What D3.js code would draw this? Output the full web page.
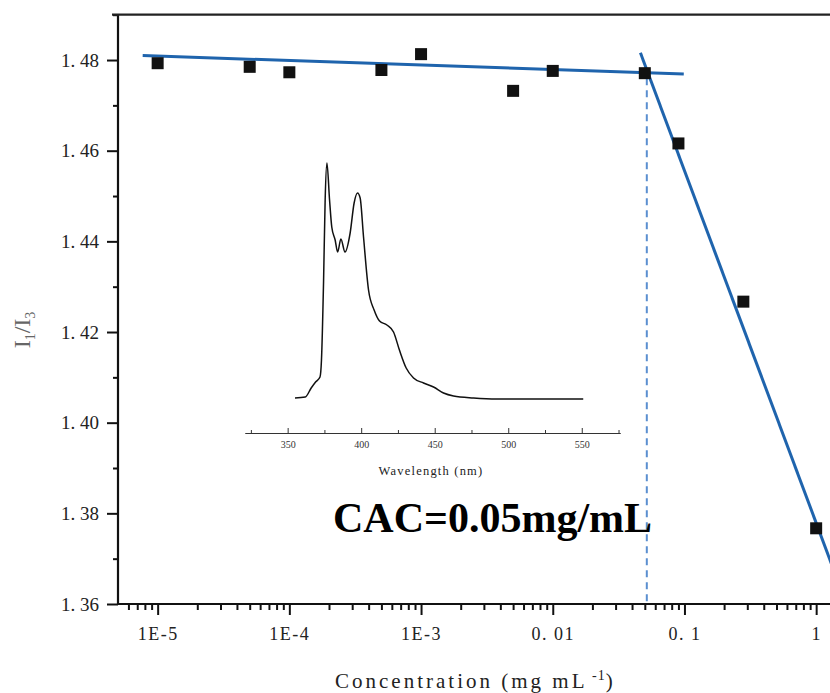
<!DOCTYPE html>
<html>
<head>
<meta charset="utf-8">
<script src="https://cdn.jsdelivr.net/npm/d3@7"></script>
<style>
  body { margin: 0; background: #fff; }
  svg { display: block; }
</style>
</head>
<body>
<div id="chart"></div>
<script>
// measured points: concentration (mg/mL) vs I1/I3
const concentration = [1e-5, 5e-5, 1e-4, 5e-4, 1e-3, 5e-3, 0.01, 0.05, 0.09, 0.28, 1]
const ratio = [1.4793, 1.4785, 1.4773, 1.4778, 1.4813, 1.4732, 1.4776, 1.4771, 1.4616, 1.4267, 1.3767]

// two fitted lines (end points)
const fitFlatX = [7.7e-6, 0.0988]
const fitFlatY = [1.4810, 1.4769]
const fitSteepX = [0.0463, 1.5]
const fitSteepY = [1.4816, 1.3642]
const cac = 0.05

const yMajor = [1.36, 1.38, 1.40, 1.42, 1.44, 1.46, 1.48]
const yMinor = [1.37, 1.39, 1.41, 1.43, 1.45, 1.47, 1.49]
const xMajor = [1e-5, 1e-4, 1e-3, 0.01, 0.1, 1]
const xMajorLabels = ["1E-5", "1E-4", "1E-3", "0. 01", "0. 1", "1"]

// inset spectrum (pyrene emission)
const wavelength = [355, 362, 366, 369, 372, 373, 374.4, 375.5, 376.7, 378.5, 380, 382.3, 384, 386.2, 389, 392.5, 395.2, 397.5, 399.3, 401.6, 405, 408.8, 412.5, 417.5, 422, 426, 430.6, 435.6, 442.4, 449.2, 456, 462.8, 476.4, 492.3, 526.3, 551]
const intensity = [35, 36, 45, 51, 56, 73, 150, 233, 270, 233, 206, 193, 181, 194, 181, 200, 230, 240, 235, 196, 143, 123, 112, 108, 101, 83, 65, 55, 50, 46, 40, 37, 35, 34, 34, 34]
const insetTicks = [350, 400, 450, 500, 550]
const insetMinor = [325, 375, 425, 475, 525, 575]

const W = 830, H = 693
const svg = d3.select("#chart").append("svg")
  .attr("width", W).attr("height", H)
  .style("background", "#fff")

const x = d3.scaleLog().domain([5e-6, 3]).range([118, 879])
const y = d3.scaleLinear().domain([1.36, 1.49]).range([604, 14.7])

const serif = "'Liberation Serif', 'DejaVu Serif', serif"

// x minor ticks 2..9 per decade
const xMinor = []
for (let e = -6; e <= 0; e++) {
  for (let k = 2; k <= 9; k++) {
    const v = k * Math.pow(10, e)
    if (v >= 5e-6 && v <= 3) xMinor.push(v)
  }
}

// ---- axes ----
const axisG = svg.append("g")

const yAx = axisG.append("g").attr("transform", "translate(118,0)")
yAx.call(d3.axisLeft(y).tickValues(yMajor).tickSize(11).tickPadding(8)
  .tickFormat(d => d3.format(".2f")(d).replace(".", ". ")))
yAx.append("g").call(d3.axisLeft(y).tickValues(yMinor).tickSize(5).tickFormat(""))
yAx.selectAll("path").remove()
yAx.selectAll("line").attr("stroke", "#111").attr("stroke-width", 2)
yAx.selectAll("text").attr("font-family", serif).attr("font-size", 19).attr("fill", "#222")

const xAx = axisG.append("g").attr("transform", "translate(0,604)")
xAx.call(d3.axisBottom(x).tickValues(xMajor).tickSize(11).tickPadding(12)
  .tickFormat((d, i) => xMajorLabels[i]))
xAx.append("g").call(d3.axisBottom(x).tickValues(xMinor).tickSize(6).tickFormat(""))
xAx.selectAll("path").remove()
xAx.selectAll("line").attr("stroke", "#111").attr("stroke-width", 2)
xAx.selectAll("text").attr("font-family", serif).attr("font-size", 18)
  .attr("letter-spacing", 1.5).attr("fill", "#222")

// frame lines
axisG.append("line").attr("x1", 118).attr("x2", 118).attr("y1", y(1.49)).attr("y2", 605)
  .attr("stroke", "#111").attr("stroke-width", 2.2)
axisG.append("line").attr("x1", 117).attr("x2", W).attr("y1", 604).attr("y2", 604)
  .attr("stroke", "#111").attr("stroke-width", 2.2)
axisG.append("line").attr("x1", 112).attr("x2", W).attr("y1", y(1.49)).attr("y2", y(1.49))
  .attr("stroke", "#222").attr("stroke-width", 2.2)

// axis titles
const xt = svg.append("text").attr("x", 335).attr("y", 688)
  .attr("font-family", serif).attr("font-size", 21).attr("letter-spacing", 3).attr("fill", "#222")
xt.append("tspan").text("Concentration (mg mL")
xt.append("tspan").attr("dy", -8).attr("font-size", 14).attr("letter-spacing", 1).text(" -1")
xt.append("tspan").attr("dy", 8).text(")")

const yt = svg.append("text")
  .attr("transform", "translate(30,330) rotate(-90)")
  .attr("text-anchor", "middle")
  .attr("font-family", serif).attr("font-size", 24).attr("fill", "#666")
yt.append("tspan").text("I")
yt.append("tspan").attr("dy", 5).attr("font-size", 14).text("1")
yt.append("tspan").attr("dy", -5).text("/I")
yt.append("tspan").attr("dy", 5).attr("font-size", 14).text("3")

// ---- inset ----
const ix = d3.scaleLinear().domain([321, 576]).range([245, 620])
const iy = d3.scaleLinear().domain([0, 270]).range([433, 163])
const inset = svg.append("g")

const iAx = inset.append("g").attr("transform", "translate(0,433)")
iAx.call(d3.axisBottom(ix).tickValues(insetTicks).tickSizeInner(-5).tickSizeOuter(0).tickPadding(8))
iAx.append("g").call(d3.axisBottom(ix).tickValues(insetMinor).tickSizeInner(-3).tickSizeOuter(0).tickFormat(""))
iAx.selectAll("path").attr("stroke", "#333").attr("stroke-width", 1.2)
iAx.selectAll("line").attr("stroke", "#333")
iAx.selectAll("text").attr("font-family", serif).attr("font-size", 10).attr("fill", "#333")

inset.append("text").attr("x", 431).attr("y", 475).attr("text-anchor", "middle")
  .attr("font-family", serif).attr("font-size", 12.5).attr("letter-spacing", 1.2).attr("fill", "#222")
  .text("Wavelength (nm)")

const spec = wavelength.map((w, i) => [w, intensity[i]])
inset.append("path")
  .datum(spec)
  .attr("fill", "none").attr("stroke", "#111").attr("stroke-width", 1.5)
  .attr("d", d3.line().x(d => ix(d[0])).y(d => iy(d[1])).curve(d3.curveMonotoneX))

// ---- fit lines ----
const lineGen = d3.line().x(d => x(d[0])).y(d => y(d[1]))
svg.append("path").datum(fitFlatX.map((v, i) => [v, fitFlatY[i]]))
  .attr("fill", "none").attr("stroke", "#1f64ad").attr("stroke-width", 3).attr("d", lineGen)
svg.append("path").datum(fitSteepX.map((v, i) => [v, fitSteepY[i]]))
  .attr("fill", "none").attr("stroke", "#1f64ad").attr("stroke-width", 3).attr("d", lineGen)

// CAC marker
svg.append("line")
  .attr("x1", x(cac) + 2).attr("x2", x(cac) + 2)
  .attr("y1", y(1.4771) + 5).attr("y2", 603)
  .attr("stroke", "#5b8fd0").attr("stroke-width", 2).attr("stroke-dasharray", "7,5")

svg.append("text").attr("x", 333).attr("y", 532)
  .attr("font-family", serif).attr("font-weight", "bold").attr("font-size", 42).attr("fill", "#000")
  .text("CAC=0.05mg/mL")

// ---- points ----
svg.append("g").selectAll("rect")
  .data(concentration.map((c, i) => [c, ratio[i]]))
  .join("rect")
  .attr("x", d => x(d[0]) - 6).attr("y", d => y(d[1]) - 6)
  .attr("width", 12).attr("height", 12)
  .attr("fill", "#111")
</script>
</body>
</html>
